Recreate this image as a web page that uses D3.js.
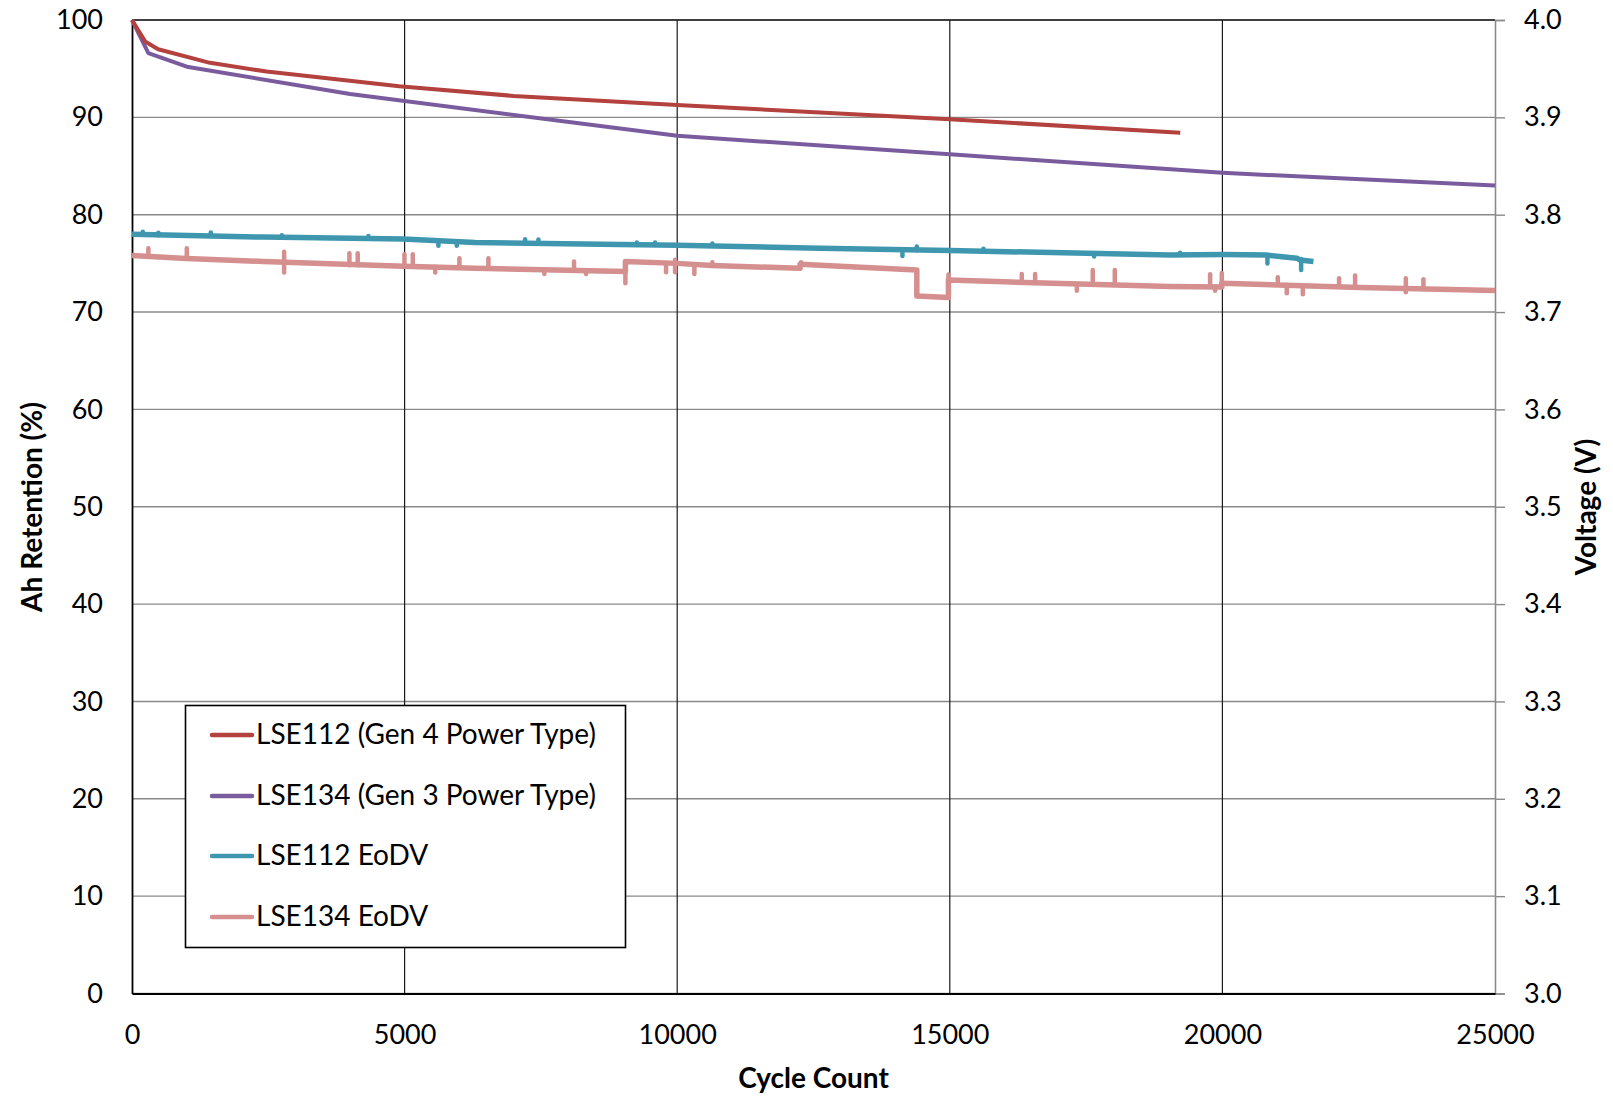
<!DOCTYPE html>
<html>
<head>
<meta charset="utf-8">
<script src="https://cdn.jsdelivr.net/npm/d3@7"></script>
<style>
  html, body { margin: 0; padding: 0; background: #fff; }
  svg { display: block; }
  text { font-family: Lato, "Open Sans", sans-serif; fill: #000; }
</style>
</head>
<body>
<svg id="chart" width="1613" height="1102"></svg>
<script>
// ---------- DATA ----------
const xTicks = [0, 5000, 10000, 15000, 20000, 25000];
const yLeftTicks = [0, 10, 20, 30, 40, 50, 60, 70, 80, 90, 100];
const yRightTicks = [3.0, 3.1, 3.2, 3.3, 3.4, 3.5, 3.6, 3.7, 3.8, 3.9, 4.0];

const seriesNames = ["LSE112 (Gen 4 Power Type)", "LSE134 (Gen 3 Power Type)", "LSE112 EoDV", "LSE134 EoDV"];

// Ah retention (%) vs cycle
const lse112Ah = [[0,100],[240,97.8],[480,97.0],[1430,95.6],[2470,94.7],[4900,93.2],[7000,92.2],[10000,91.27],[15000,89.8],[19227,88.43]];
const lse134Ah = [[0,100],[300,96.6],[1005,95.2],[4000,92.4],[10000,88.1],[15000,86.2],[20000,84.3],[25000,83.0]];

// End of discharge voltage (V) vs cycle
const lse112V = [[0,3.780],[2410,3.777],[4978,3.775],[6293,3.7714],[10000,3.7687],[12620,3.7656],[15006,3.7632],[19044,3.7587],[20007,3.759],[20800,3.7585],[21364,3.7553],[21420,3.7535],[21670,3.752]];
const lse112VSpikes = [[198,3.780,3.7826],[484,3.779,3.7815],[1445,3.778,3.7816],[2748,3.777,3.779],[4336,3.776,3.778],[5620,3.7735,3.768],[5957,3.7725,3.768],
  [7210,3.771,3.7748],[7454,3.7705,3.7745],[9260,3.769,3.7715],[9594,3.769,3.7715],[10645,3.768,3.7705],
  [14131,3.7638,3.7577],[14395,3.7636,3.7673],[15617,3.7625,3.765],[17647,3.7605,3.757],
  [19224,3.7587,3.761],[20826,3.7585,3.750],[21444,3.7545,3.7433]];

const lse134V = [[0,3.758],[1000,3.755],[2410,3.752],[4978,3.747],[6293,3.745],[9050,3.7416],[9050,3.752],[10000,3.750],[10635,3.7477],[12254,3.745],[12254,3.749],[12712,3.7477],[14395,3.7433],[14395,3.7166],[14975,3.7149],[14975,3.733],[16000,3.731],[19044,3.7262],[19989,3.7258],[19989,3.7297],[22525,3.7252],[25000,3.7221]];
const lse134VSpikes = [[300,3.757,3.7656],[1005,3.755,3.7656],[2790,3.762,3.7406],[3988,3.748,3.7605],[4140,3.748,3.7605],[4997,3.7475,3.7594],[5150,3.747,3.7594],[5562,3.7465,3.7406],[6005,3.7458,3.7553],
  [6537,3.7447,3.7553],[7564,3.744,3.7392],[8108,3.7432,3.7519],[8328,3.743,3.739],[9050,3.7416,3.7297],[9796,3.7505,3.741],[9961,3.7536,3.741],[10315,3.749,3.739],[10645,3.7477,3.7512],[12272,3.749,3.7512],
  [14975,3.733,3.7386],[16320,3.7305,3.7392],[16565,3.7302,3.7392],[17330,3.7288,3.7218],[17622,3.7284,3.7433],[18026,3.728,3.7433],
  [19775,3.7262,3.7389],[19866,3.7262,3.7218],[19989,3.7297,3.740],[21016,3.7283,3.7358],[21181,3.728,3.7194],[21475,3.7275,3.7183],[22140,3.7262,3.7347],[22434,3.7258,3.7375],[23364,3.7242,3.7347],[23364,3.7242,3.7204],[23687,3.7238,3.7337]];

const colors = ["#B3423F", "#7A5C9E", "#3F97AF", "#D48F8E"];

// ---------- LAYOUT ----------
const svg = d3.select("#chart");
const L = 132, R = 1495, T = 20, B = 993.5;

const x = d3.scaleLinear().domain([0, 25000]).range([L, R]);
const yL = d3.scaleLinear().domain([0, 100]).range([B, T]);
const yR = d3.scaleLinear().domain([3.0, 4.0]).range([B, T]);

// gridlines
svg.append("g").selectAll("line").data(yLeftTicks).join("line")
  .attr("x1", L).attr("x2", R).attr("y1", d => yL(d)).attr("y2", d => yL(d))
  .attr("stroke", d => d === 100 ? "#000" : "#8a8a8a").attr("stroke-width", 1.4);
svg.append("g").selectAll("line").data(xTicks.slice(1, -1)).join("line")
  .attr("x1", d => x(d)).attr("x2", d => x(d)).attr("y1", T).attr("y2", B)
  .attr("stroke", "#1a1a1a").attr("stroke-width", 1.2);

const tickFont = "27px";

// left axis
const axL = svg.append("g").attr("transform", `translate(${L},0)`)
  .call(d3.axisLeft(yL).tickValues(yLeftTicks).tickSize(0).tickPadding(29).tickFormat(d3.format("d")));
axL.select(".domain").attr("stroke", "#000").attr("stroke-width", 1.8);
axL.selectAll("text").style("font-size", tickFont).style("font-family", "Lato, sans-serif").attr("fill", "#000");

// right axis
const axR = svg.append("g").attr("transform", `translate(${R},0)`)
  .call(d3.axisRight(yR).tickValues(yRightTicks).tickSize(10).tickPadding(19).tickFormat(d3.format(".1f")));
axR.select(".domain").attr("stroke", "#8a8a8a").attr("stroke-width", 1.6);
axR.selectAll(".tick line").attr("stroke", "#8a8a8a").attr("stroke-width", 1.4);
axR.selectAll("text").style("font-size", tickFont).style("font-family", "Lato, sans-serif").attr("fill", "#000");

// bottom axis
const axB = svg.append("g").attr("transform", `translate(0,${B})`)
  .call(d3.axisBottom(x).tickValues(xTicks).tickSize(0).tickPadding(31).tickFormat(d3.format("d")));
axB.select(".domain").attr("stroke", "#000").attr("stroke-width", 1.8);
axB.selectAll("text").style("font-size", tickFont).style("font-family", "Lato, sans-serif").attr("fill", "#000");

// axis titles
svg.append("text").attr("x", (L + R) / 2).attr("y", 1081).attr("text-anchor", "middle")
  .attr("dominant-baseline", "middle").style("font-size", "28px").style("font-weight", "bold").text("Cycle Count");
svg.append("text").attr("transform", "translate(35,507) rotate(-90)").attr("text-anchor", "middle")
  .attr("dominant-baseline", "middle").style("font-size", "28px").style("font-weight", "bold").text("Ah Retention (%)");
svg.append("text").attr("transform", "translate(1589,507) rotate(-90)").attr("text-anchor", "middle")
  .attr("dominant-baseline", "middle").style("font-size", "28px").style("font-weight", "bold").text("Voltage (V)");

// lines
const lineL = d3.line().x(d => x(d[0])).y(d => yL(d[1]));
const lineR = d3.line().x(d => x(d[0])).y(d => yR(d[1]));
const plot = svg.append("g");

function spikes(data, color) {
  plot.append("g").selectAll("line").data(data).join("line")
    .attr("x1", d => x(d[0])).attr("x2", d => x(d[0]))
    .attr("y1", d => yR(d[1])).attr("y2", d => yR(d[2]))
    .attr("stroke", color).attr("stroke-width", 4.5).attr("stroke-linecap", "round");
}

plot.append("path").datum(lse134V).attr("d", lineR).attr("fill", "none")
  .attr("stroke", colors[3]).attr("stroke-width", 5.5).attr("stroke-linejoin", "round");
spikes(lse134VSpikes, colors[3]);
plot.append("path").datum(lse112V).attr("d", lineR).attr("fill", "none")
  .attr("stroke", colors[2]).attr("stroke-width", 5.5).attr("stroke-linejoin", "round");
spikes(lse112VSpikes, colors[2]);
plot.append("path").datum(lse134Ah).attr("d", lineL).attr("fill", "none")
  .attr("stroke", colors[1]).attr("stroke-width", 4).attr("stroke-linejoin", "round");
plot.append("path").datum(lse112Ah).attr("d", lineL).attr("fill", "none")
  .attr("stroke", colors[0]).attr("stroke-width", 4).attr("stroke-linejoin", "round");

// legend
const lg = svg.append("g");
lg.append("rect").attr("x", 185.5).attr("y", 705.5).attr("width", 440).attr("height", 242)
  .attr("fill", "#fff").attr("stroke", "#000").attr("stroke-width", 1.6);
const rowY = [737, 798, 858, 919];
seriesNames.forEach((name, i) => {
  lg.append("line").attr("x1", 212).attr("x2", 252).attr("y1", rowY[i] - 2).attr("y2", rowY[i] - 2)
    .attr("stroke", colors[i]).attr("stroke-width", 4.5).attr("stroke-linecap", "round");
  lg.append("text").attr("x", 256).attr("y", rowY[i]).attr("dominant-baseline", "middle")
    .style("font-size", "28px").text(name);
});
</script>
</body>
</html>
